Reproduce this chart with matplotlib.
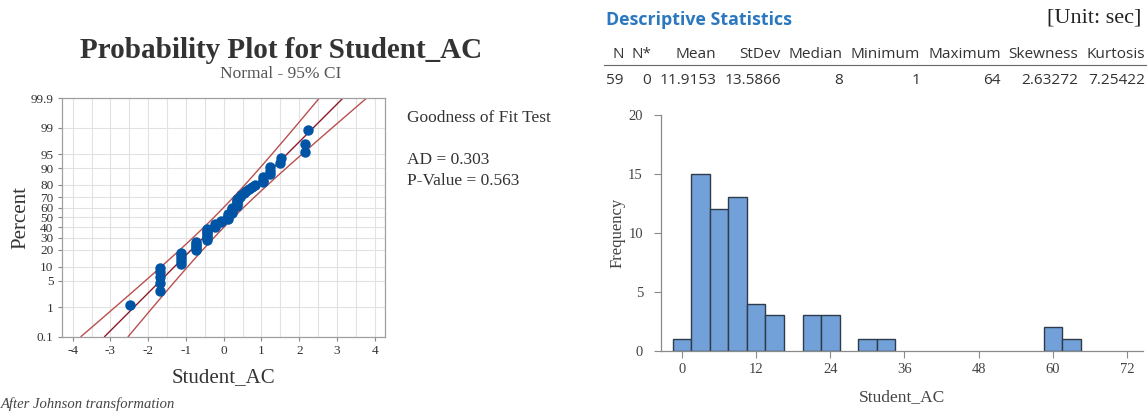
import numpy as np
import matplotlib
matplotlib.use("Agg")
import matplotlib.pyplot as plt
from statistics import NormalDist

plt.rcParams["axes.unicode_minus"] = False

W, H = 1148, 413

# Johnson-transformed Student_AC, sorted
trans_values = [-2.49,
                -1.68, -1.68, -1.68, -1.68, -1.68,
                -1.12, -1.12, -1.12, -1.12, -1.12,
                -0.74, -0.74, -0.74, -0.74, -0.74,
                -0.44, -0.44, -0.44, -0.44, -0.44, -0.44, -0.44,
                -0.24, -0.24, -0.24,
                -0.06, -0.06,
                0.12, 0.12, 0.12, 0.12,
                0.22, 0.22, 0.22, 0.22,
                0.35, 0.35, 0.35, 0.35, 0.35,
                0.42, 0.47, 0.53, 0.60, 0.68, 0.75, 0.82,
                1.05, 1.05, 1.05,
                1.22, 1.22, 1.22,
                1.48, 1.51,
                2.14, 2.14,
                2.23]
fit_mean = 0.0
fit_sd = 1.02
pct_ticks = [0.1, 1, 5, 10, 20, 30, 40, 50, 60, 70, 80, 90, 95, 99, 99.9]
pct_labels = ["0.1", "1", "5", "10", "20", "30", "40", "50", "60", "70",
              "80", "90", "95", "99", "99.9"]
gof_lines = ["Goodness of Fit Test", "AD = 0.303", "P-Value = 0.563"]

# histogram of raw Student_AC (bin width 3)
hist_centers = [0, 3, 6, 9, 12, 15, 21, 24, 30, 33, 60, 63]
hist_counts = [1, 15, 12, 13, 4, 3, 3, 3, 1, 1, 2, 1]

stat_names = ["N", "N*", "Mean", "StDev", "Median", "Minimum", "Maximum",
              "Skewness", "Kurtosis"]
stat_values = ["59", "0", "11.9153", "13.5866", "8", "1", "64",
               "2.63272", "7.25422"]

serif = "Liberation Serif"
sans = "Open Sans"


def fx(x):
    return x / W


def fy(y):
    return 1 - y / H


fig = plt.figure(figsize=(W / 100, H / 100), dpi=100)

# ---- probability plot ----
nd = NormalDist()
n = len(trans_values)
zpts = [nd.inv_cdf((i + 1 - 0.3) / (n + 0.4)) for i in range(n)]
zlo, zhi = nd.inv_cdf(0.001), nd.inv_cdf(0.999)

ax1 = fig.add_axes([fx(61.7), fy(336.5), (385 - 61.7) / W, (336.5 - 98.3) / H])
zz = np.linspace(zlo, zhi, 60)
xfit = fit_mean + fit_sd * zz
se = fit_sd * np.sqrt((1 + zz ** 2 / 2) / n)
ax1.plot(xfit, zz, color="#8E1B2A", lw=1.0, zorder=2)
ax1.plot(xfit - 1.96 * se, zz, color="#B9504E", lw=1.0, zorder=2)
ax1.plot(xfit + 1.96 * se, zz, color="#B9504E", lw=1.0, zorder=2)
ax1.plot(trans_values, zpts, "o", ms=6.5, color="#0054A6", mec="#0054A6", zorder=3)

ax1.set_xlim(-4.29, 4.27)
ax1.set_ylim(zlo, zhi)
ax1.set_xticks(range(-4, 5))
ax1.set_xticks(np.arange(-4, 4.01, 0.5), minor=True)
ax1.set_yticks([nd.inv_cdf(p / 100) for p in pct_ticks])
ax1.set_yticklabels(pct_labels)
ax1.grid(which="both", color="#e2e2e2", lw=0.8)
ax1.set_axisbelow(True)
ax1.tick_params(which="minor", length=0)
ax1.tick_params(which="major", length=3, pad=3, color="#888888",
                labelsize=9.5, labelcolor="#333333")
for lab in ax1.get_xticklabels() + ax1.get_yticklabels():
    lab.set_family(serif)
for s in ax1.spines.values():
    s.set_color("#a0a0a0")
    s.set_linewidth(0.9)
ax1.set_xlabel("Student_AC", family=serif, fontsize=15, color="#333333", labelpad=8)
ax1.set_ylabel("Percent", family=serif, fontsize=15, color="#333333", labelpad=0)

fig.text(fx(281), fy(50), "Probability Plot for Student_AC", family=serif,
         fontsize=21, weight="bold", color="#333333", ha="center", va="center")
fig.text(fx(281), fy(74), "Normal - 95% CI", family=serif, fontsize=12.5,
         color="#555555", ha="center", va="center")
fig.text(fx(407), fy(118), gof_lines[0], family=serif, fontsize=12.5,
         color="#333333", va="center")
fig.text(fx(407), fy(160), gof_lines[1], family=serif, fontsize=12.5,
         color="#333333", va="center")
fig.text(fx(407), fy(181), gof_lines[2], family=serif, fontsize=12.5,
         color="#333333", va="center")
fig.text(fx(1), fy(404), "After Johnson transformation", family=serif,
         style="italic", fontsize=10.5, color="#444444", va="center")

# ---- descriptive statistics ----
fig.text(fx(606), fy(20), "Descriptive Statistics", family=sans, fontsize=12.8,
         weight="bold", color="#2B78BE", va="center")
fig.text(fx(1141), fy(18), "[Unit: sec]", family=serif, fontsize=16,
         color="#222222", ha="right", va="center")

heads = [fig.text(0, fy(55), t, family=sans, fontsize=11.1, color="#333333",
                  ha="right", va="center") for t in stat_names]
vals = [fig.text(0, fy(80), t, family=sans, fontsize=11.1, color="#333333",
                 ha="right", va="center") for t in stat_values]
r = fig.canvas.get_renderer()
widths = [max(h.get_window_extent(r).width, v.get_window_extent(r).width)
          for h, v in zip(heads, vals)]
left, right = 606, 1145
gap = (right - left - sum(widths)) / (len(widths) - 1)
cur = left
for h, v, w in zip(heads, vals, widths):
    cur += w
    h.set_x(fx(cur))
    v.set_x(fx(cur))
    cur += gap
fig.add_artist(plt.Line2D([fx(604), fx(1146)], [fy(65), fy(65)],
                          color="#666666", lw=0.8))

# ---- histogram ----
ax2 = fig.add_axes([fx(661), fy(350.7), (1143 - 661) / W, (350.7 - 115) / H])
ax2.bar(hist_centers, hist_counts, width=3, color="#72A0D8",
        edgecolor="#2E3B4B", lw=1.0)
ax2.set_xlim(-3.4, 74.6)
ax2.set_ylim(0, 20)
ax2.set_xticks(range(0, 73, 12))
ax2.set_yticks(range(0, 21, 5))
for side in ["top", "right"]:
    ax2.spines[side].set_visible(False)
for side in ["left", "bottom"]:
    ax2.spines[side].set_color("#8a8a8a")
    ax2.spines[side].set_linewidth(0.9)
ax2.tick_params(axis="x", length=5, pad=4, color="#8a8a8a", labelsize=10.5,
                labelcolor="#444444")
ax2.tick_params(axis="y", length=5, pad=8, color="#8a8a8a", labelsize=10.5,
                labelcolor="#444444")
for lab in ax2.get_xticklabels() + ax2.get_yticklabels():
    lab.set_family(serif)
ax2.set_xlabel("Student_AC", family=serif, fontsize=12.5, color="#444444", labelpad=9)
ax2.set_ylabel("Frequency", family=serif, fontsize=12, color="#444444", labelpad=2)

fig.savefig("out.png", dpi=100)
